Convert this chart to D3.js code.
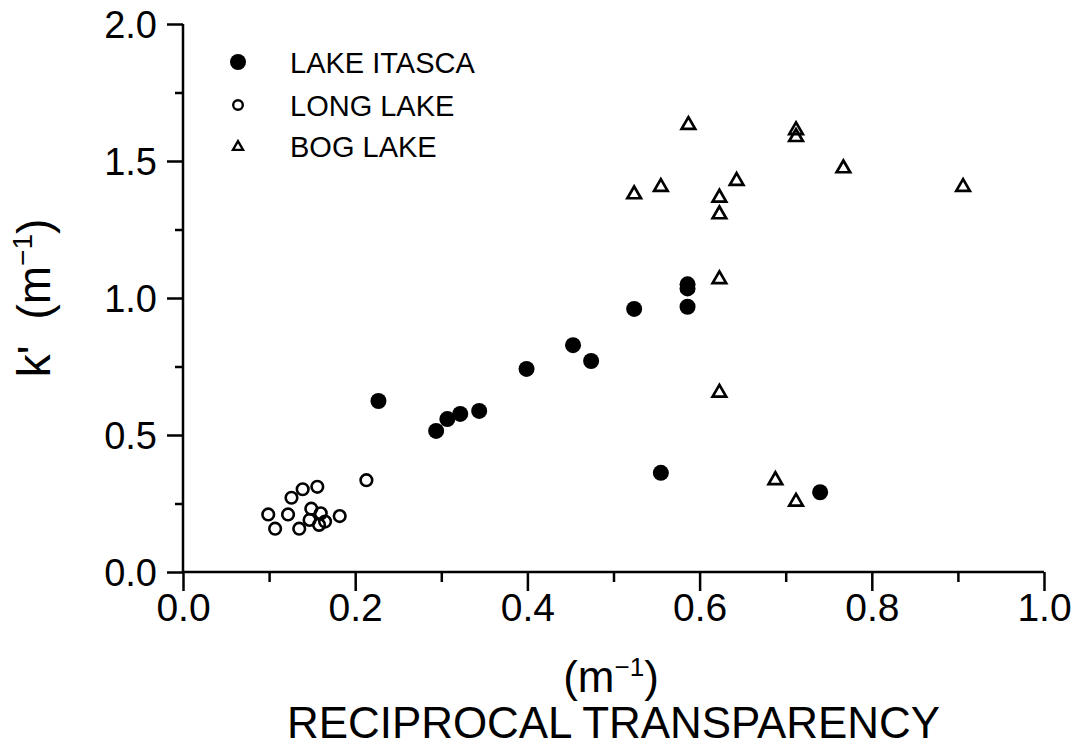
<!DOCTYPE html>
<html>
<head>
<meta charset="utf-8">
<script src="https://cdn.jsdelivr.net/npm/d3@7"></script>
<style>
  html, body { margin: 0; padding: 0; background: #fff; }
  svg { display: block; font-family: "Liberation Sans", Arial, sans-serif; }
</style>
</head>
<body>
<div id="chart"></div>
<script>
// 数据
const itascaX = [0.227, 0.294, 0.307, 0.322, 0.344, 0.399, 0.453, 0.474, 0.524, 0.586, 0.586, 0.586, 0.555, 0.740];
const itascaY = [0.624, 0.515, 0.558, 0.577, 0.588, 0.741, 0.828, 0.770, 0.960, 1.050, 1.035, 0.968, 0.362, 0.291];

const longX = [0.099, 0.107, 0.122, 0.126, 0.139, 0.156, 0.135, 0.149, 0.147, 0.160, 0.158, 0.165, 0.182, 0.213];
const longY = [0.210, 0.158, 0.210, 0.271, 0.302, 0.311, 0.158, 0.231, 0.190, 0.214, 0.172, 0.184, 0.204, 0.335];

const bogX = [0.587, 0.712, 0.712, 0.767, 0.906, 0.524, 0.555, 0.643, 0.623, 0.623, 0.623, 0.623, 0.688, 0.712];
const bogY = [1.635, 1.616, 1.591, 1.477, 1.409, 1.382, 1.409, 1.431, 1.370, 1.309, 1.072, 0.658, 0.339, 0.260];

const xMajor = [0.0, 0.2, 0.4, 0.6, 0.8, 1.0];
const xMinor = [0.1, 0.3, 0.5, 0.7, 0.9];
const yMajor = [0.0, 0.5, 1.0, 1.5, 2.0];
const yMinor = [0.25, 0.75, 1.25, 1.75];

const legendNames = ['LAKE ITASCA', 'LONG LAKE', 'BOG LAKE'];

const width = 1080, height = 748;
const margin = { left: 183, right: 36, top: 24, bottom: 176 };

const svg = d3.select('#chart')
    .append('svg')
    .attr('width', width)
    .attr('height', height);

const x = d3.scaleLinear().domain([0, 1]).range([margin.left, width - margin.right]);
const y = d3.scaleLinear().domain([0, 2]).range([height - margin.bottom, margin.top]);

// 坐标轴
const xAxis = svg.append('g')
    .attr('transform', `translate(0,${y(0)})`)
    .call(d3.axisBottom(x).tickValues(xMajor).tickSize(19).tickPadding(2).tickFormat(d3.format('.1f')));
svg.append('g')
    .attr('transform', `translate(0,${y(0)})`)
    .call(d3.axisBottom(x).tickValues(xMinor).tickSize(10).tickFormat(''))
    .select('.domain').remove();

const yAxis = svg.append('g')
    .attr('transform', `translate(${x(0)},0)`)
    .call(d3.axisLeft(y).tickValues(yMajor).tickSize(16).tickPadding(10).tickFormat(d3.format('.1f')));
svg.append('g')
    .attr('transform', `translate(${x(0)},0)`)
    .call(d3.axisLeft(y).tickValues(yMinor).tickSize(8).tickFormat(''))
    .select('.domain').remove();

svg.selectAll('.tick line, .domain').attr('stroke', '#000').attr('stroke-width', 2.5);
// 去掉 d3 默认的外侧刻度
xAxis.select('.domain').attr('d', `M${x(0)},0H${x(1)}`);
yAxis.select('.domain').attr('d', `M0,${y(0)}V${y(2)}`);

xAxis.selectAll('.tick text')
    .attr('fill', '#000')
    .attr('font-size', 39)
    .attr('font-family', '"Liberation Sans", Arial, sans-serif');
yAxis.selectAll('.tick text')
    .attr('fill', '#000')
    .attr('font-size', 38)
    .attr('dy', '0.36em')
    .attr('font-family', '"Liberation Sans", Arial, sans-serif');

// 数据点
const itasca = itascaX.map((v, i) => ({ x: v, y: itascaY[i] }));
const longLake = longX.map((v, i) => ({ x: v, y: longY[i] }));
const bog = bogX.map((v, i) => ({ x: v, y: bogY[i] }));

const tri = d3.symbol().type(d3.symbolTriangle).size(80);

svg.append('g').selectAll('circle')
    .data(itasca)
    .enter()
    .append('circle')
    .attr('cx', d => x(d.x))
    .attr('cy', d => y(d.y))
    .attr('r', 8)
    .attr('fill', '#000');

svg.append('g').selectAll('circle')
    .data(longLake)
    .enter()
    .append('circle')
    .attr('cx', d => x(d.x))
    .attr('cy', d => y(d.y))
    .attr('r', 5.8)
    .attr('fill', 'none')
    .attr('stroke', '#000')
    .attr('stroke-width', 2.6);

svg.append('g').selectAll('path')
    .data(bog)
    .enter()
    .append('path')
    .attr('d', tri)
    .attr('transform', d => `translate(${x(d.x)},${y(d.y) + 1})`)
    .attr('fill', 'none')
    .attr('stroke', '#000')
    .attr('stroke-width', 2.7);

// 图例
const legend = svg.append('g');
const legendY = [62, 105, 146];
legend.append('circle').attr('cx', 238).attr('cy', legendY[0]).attr('r', 8).attr('fill', '#000');
legend.append('circle').attr('cx', 238).attr('cy', legendY[1]).attr('r', 4.8)
    .attr('fill', 'none').attr('stroke', '#000').attr('stroke-width', 2.4);
legend.append('path').attr('d', d3.symbol().type(d3.symbolTriangle).size(45))
    .attr('transform', `translate(238,${legendY[2] + 1})`)
    .attr('fill', 'none').attr('stroke', '#000').attr('stroke-width', 2.3);

legend.selectAll('text')
    .data(legendNames)
    .enter()
    .append('text')
    .attr('x', 290)
    .attr('y', (d, i) => legendY[i] + 11)
    .attr('font-size', 29)
    .attr('fill', '#000')
    .text(d => d);

// 轴标题
const yTitle = svg.append('text')
    .attr('transform', 'translate(50,298) rotate(-90)')
    .attr('text-anchor', 'middle')
    .attr('font-size', 46)
    .attr('fill', '#000');
yTitle.append('tspan').text("k'");
yTitle.append('tspan').attr('dx', 26).text('(m');
yTitle.append('tspan').attr('font-size', 28).attr('dy', -18).text('−1');
yTitle.append('tspan').attr('dy', 18).text(')');

const xUnit = svg.append('text')
    .attr('x', 611)
    .attr('y', 692)
    .attr('text-anchor', 'middle')
    .attr('font-size', 44)
    .attr('fill', '#000');
xUnit.append('tspan').text('(m');
xUnit.append('tspan').attr('font-size', 26).attr('dy', -16).text('−1');
xUnit.append('tspan').attr('dy', 16).text(')');

svg.append('text')
    .attr('x', 287)
    .attr('y', 738)
    .attr('font-size', 44)
    .attr('textLength', 653)
    .attr('lengthAdjust', 'spacingAndGlyphs')
    .attr('fill', '#000')
    .text('RECIPROCAL TRANSPARENCY');
</script>
</body>
</html>
